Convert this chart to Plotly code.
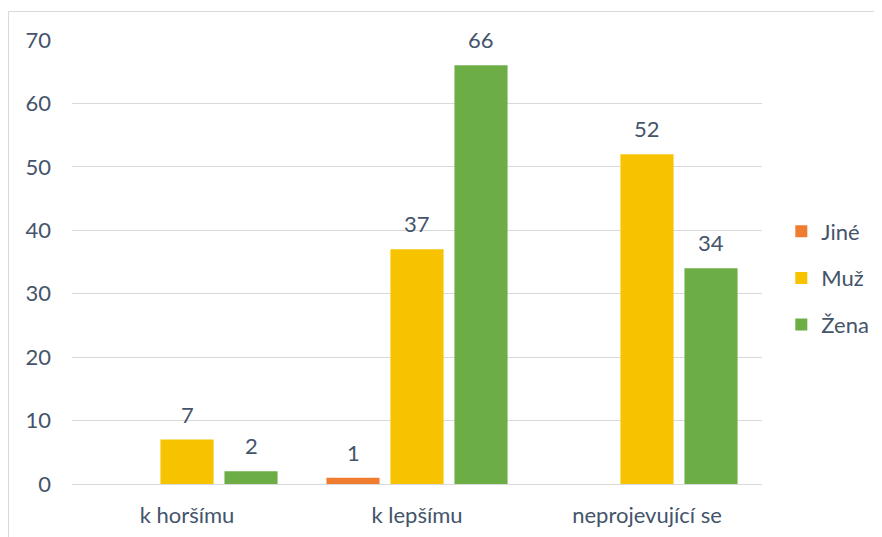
import plotly.graph_objects as go

categories = ["k horšímu", "k lepšímu", "neprojevující se"]
series_names = ["Jiné", "Muž", "Žena"]
jine = [None, 1, None]
muz = [7, 37, 52]
zena = [2, 66, 34]
y_ticks = [0, 10, 20, 30, 40, 50, 60, 70]

TEXT = "#44546A"
GRID = "#D9D9D9"
FONT = "Lato, 'Open Sans', sans-serif"
colors = ["#F07C30", "#F7C300", "#6CAE45"]

# the page body adds an 8px offset, so margins are shifted to compensate
W, H = 882, 537
L, T = 64, 32
pw, ph = 690, 444
R, B = W - L - pw, H - T - ph
slot = 64  # px per bar within a group

fig = go.Figure()
for i, (name, vals) in enumerate(zip(series_names, [jine, muz, zena])):
    fig.add_trace(go.Bar(
        x=categories, y=vals, name=name,
        marker=dict(color=colors[i], line=dict(width=0)),
        legendgroup=name,
    ))
    # data labels above bars
    for cat, v in zip(categories, vals):
        if v is None:
            continue
        fig.add_annotation(
            x=cat, y=v, text=str(v), showarrow=False,
            xshift=(i - 1) * slot, yshift=10, yanchor="bottom",
            font=dict(size=22, color=TEXT, family=FONT),
        )

# chart border (Excel chart area)
fig.add_shape(
    type="rect", xref="paper", yref="paper",
    x0=(0.5 - L) / pw, x1=1.6, y0=-0.5, y1=(T - 3.5) / ph + 1,
    line=dict(color=GRID, width=1), layer="below",
)

fig.update_layout(
    width=W, height=H,
    margin=dict(l=L, r=R, t=T, b=B),
    paper_bgcolor="white", plot_bgcolor="white",
    barmode="group", bargap=0.165, bargroupgap=0.17,
    font=dict(family=FONT, size=22, color=TEXT),
    legend=dict(
        x=1.028, xanchor="left", y=(ph - 270 + T) / ph, yanchor="middle",
        font=dict(size=22, color=TEXT), traceorder="grouped", tracegroupgap=15,
        itemwidth=30, bgcolor="rgba(0,0,0,0)",
    ),
    showlegend=True,
)
fig.update_xaxes(
    showgrid=False, showline=False, zeroline=False, ticks="",
    ticklabelstandoff=16, tickfont=dict(size=22, color=TEXT),
)
fig.update_yaxes(
    range=[0, 70], tickvals=y_ticks, showgrid=True, gridcolor=GRID, gridwidth=1,
    zeroline=True, zerolinecolor=GRID, zerolinewidth=1, showline=False, ticks="",
    ticklabelstandoff=20, tickfont=dict(size=22, color=TEXT),
)

fig.write_html("out.html")
